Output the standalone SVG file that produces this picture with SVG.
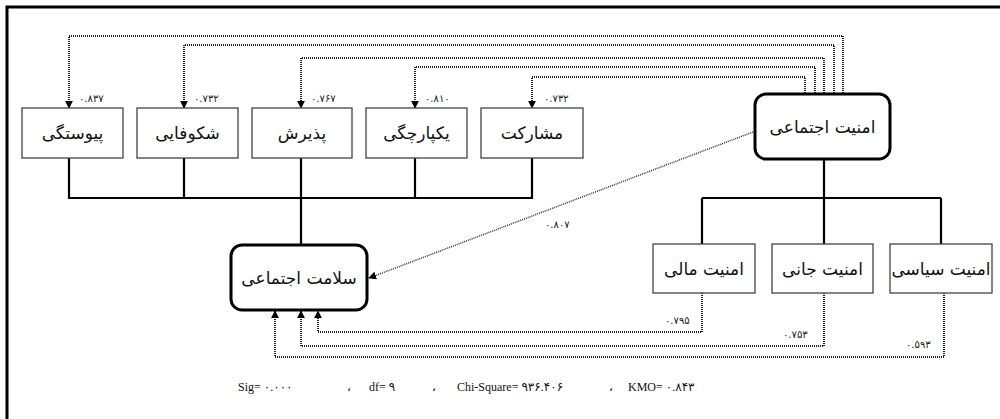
<svg xmlns="http://www.w3.org/2000/svg" width="1000" height="419" viewBox="0 0 1000 419">
<style>
.box{fill:#fff;stroke:#444;stroke-width:1.3}
.rbox{fill:#fff;stroke:#000;stroke-width:3}
.lbl{font-family:"DejaVu Sans",sans-serif;font-size:17px;fill:#111;text-anchor:middle;direction:rtl}
.num{font-family:"DejaVu Sans",sans-serif;font-size:10px;fill:#222;text-anchor:start}
.stat{font-family:"Liberation Serif","DejaVu Sans",serif;font-size:12px;fill:#111}
.solid{fill:none;stroke:#000;stroke-width:2.2}
.dot{fill:none;stroke:#222;stroke-width:2;stroke-dasharray:1 1}
.dotd{fill:none;stroke:#333;stroke-width:1.5;stroke-dasharray:1 1}
</style>
<defs>
<marker id="ah2" viewBox="0 0 10 10" refX="9" refY="5" markerWidth="8" markerHeight="8" orient="auto" markerUnits="userSpaceOnUse">
<path d="M0,0 L10,5 L0,10 z" fill="#000"/>
</marker>
</defs>
<rect width="1000" height="419" fill="#fff"/>
<g id="frame">
<path d="M7,419 L7,7 L1000,7" fill="none" stroke="#000" stroke-width="3"/>
</g>
<g id="connectors">
<path class="solid" d="M69,158 V198 H532 V158 M184,158 V198 M301,158 V244 M415,158 V198"/>
<path class="solid" d="M824,159 V198 M702,198 H941 M702,198 V244 M824,198 V244 M941,198 V244"/>
<path class="dot" d="M843,93 V36 H69 V108" marker-end="url(#ah2)"/>
<path class="dot" d="M834,93 V45 H184 V108" marker-end="url(#ah2)"/>
<path class="dot" d="M824,93 V58 H301 V108" marker-end="url(#ah2)"/>
<path class="dot" d="M815,93 V67 H415 V108" marker-end="url(#ah2)"/>
<path class="dot" d="M805,93 V77 H532 V108" marker-end="url(#ah2)"/>
<path class="dotd" d="M753,132 L369,278" marker-end="url(#ah2)"/>
<path class="dot" d="M702,293 V332 H318 V311" marker-end="url(#ah2)"/>
<path class="dot" d="M824,293 V346 H301 V311" marker-end="url(#ah2)"/>
<path class="dot" d="M944,293 V357 H275 V311" marker-end="url(#ah2)"/>
</g>
<g id="labels">
<text class="num" x="79" y="102">۰.۸۳۷</text>
<text class="num" x="194" y="102">۰.۷۳۲</text>
<text class="num" x="311" y="102">۰.۷۶۷</text>
<text class="num" x="425" y="102">۰.۸۱۰</text>
<text class="num" x="544" y="102">۰.۷۳۲</text>
<text class="num" x="545" y="228">۰.۸۰۷</text>
<text class="num" x="665" y="324">۰.۷۹۵</text>
<text class="num" x="783" y="338">۰.۷۵۳</text>
<text class="num" x="906" y="348">۰.۵۹۳</text>
</g>
<g id="n-peyvastegi"><rect class="box" x="22" y="108" width="101" height="50"/><text class="lbl" x="72.5" y="139">پیوستگی</text></g>
<g id="n-shekoofayi"><rect class="box" x="137" y="108" width="101" height="50"/><text class="lbl" x="187.5" y="139">شکوفایی</text></g>
<g id="n-paziresh"><rect class="box" x="252" y="108" width="100" height="50"/><text class="lbl" x="302" y="139">پذیرش</text></g>
<g id="n-yekparchegi"><rect class="box" x="366" y="108" width="101" height="50"/><text class="lbl" x="416.5" y="139">یکپارچگی</text></g>
<g id="n-mosharekat"><rect class="box" x="481" y="108" width="102" height="50"/><text class="lbl" x="532" y="139">مشارکت</text></g>
<g id="n-amniat-ejtemaei"><rect class="rbox" x="755" y="94" width="135" height="65" rx="11"/><text class="lbl" x="822.5" y="133">امنیت اجتماعی</text></g>
<g id="n-salamat"><rect class="rbox" x="231" y="245" width="136" height="65" rx="11"/><text class="lbl" x="299" y="284">سلامت اجتماعی</text></g>
<g id="n-mali"><rect class="box" x="653" y="244" width="102" height="49"/><text class="lbl" x="704" y="275">امنیت مالی</text></g>
<g id="n-jani"><rect class="box" x="772" y="244" width="101" height="49"/><text class="lbl" x="822.5" y="275">امنیت جانی</text></g>
<g id="n-siasi"><rect class="box" x="890" y="244" width="102" height="49"/><text class="lbl" x="941" y="275">امنیت سیاسی</text></g>
<g id="stats">
<text class="stat" x="238" y="391">Sig= ۰.۰۰۰</text>
<text class="stat" x="347" y="391">،</text>
<text class="stat" x="369" y="391">df= ۹</text>
<text class="stat" x="432" y="391">،</text>
<text class="stat" x="457" y="391">Chi-Square= ۹۳۶.۴۰۶</text>
<text class="stat" x="609" y="391">،</text>
<text class="stat" x="628" y="391">KMO= ۰.۸۴۳</text>
</g>
</svg>
